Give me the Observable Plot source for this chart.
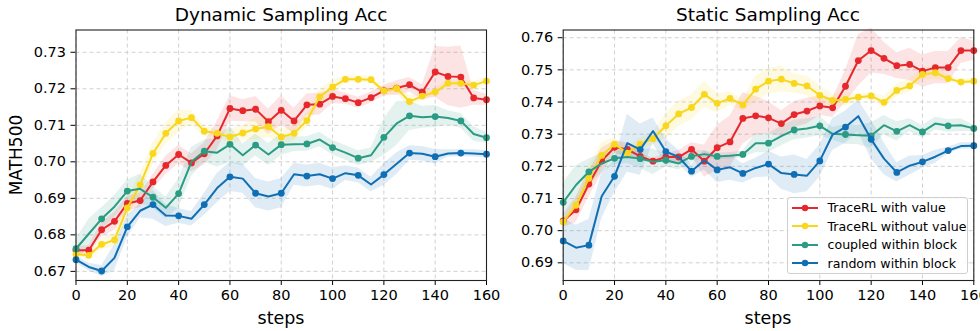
<!DOCTYPE html>
<html><head><meta charset="utf-8">
<script src="https://cdn.jsdelivr.net/npm/d3@7"></script>
<script src="https://cdn.jsdelivr.net/npm/@observablehq/plot@0.6"></script>
<style>
html,body{margin:0;padding:0;background:#fff;}
#chart{position:relative;width:980px;height:331px;font-family:"DejaVu Sans",sans-serif;color:#000;overflow:hidden;}
.panel{position:absolute;top:0;}
.lbl{position:absolute;white-space:nowrap;transform:translate(-50%,-50%);line-height:1;}
#legend{position:absolute;left:786.5px;top:196.5px;width:181px;height:77px;box-sizing:border-box;border:1px solid #cfcfcf;border-radius:3px;background:rgba(255,255,255,0.85);font-size:12.6px;}
#legend .item{position:absolute;left:0;height:18px;display:flex;align-items:center;}
#legend svg{display:block;margin-left:3px;margin-right:9px;}
</style></head><body><div id="chart"></div><script>
const steps = [0,5,10,15,20,25,30,35,40,45,50,55,60,65,70,75,80,85,90,95,100,105,110,115,120,125,130,135,140,145,150,155,160];
const seriesNames = ["TraceRL with value","TraceRL without value","coupled within block","random within block"];
const xTickValues = [0,20,40,60,80,100,120,140,160];
const dynYTicks = [0.67,0.68,0.69,0.70,0.71,0.72,0.73];
const staYTicks = [0.69,0.70,0.71,0.72,0.73,0.74,0.75,0.76];

// Dynamic Sampling Acc (MATH500)
const dynWith = [0.6758,0.6758,0.6814,0.6837,0.6886,0.6894,0.6945,0.6990,0.7020,0.6997,0.7022,0.7071,0.7146,0.7140,0.7144,0.7110,0.7141,0.7112,0.7156,0.7158,0.7179,0.7173,0.7162,0.7176,0.7195,0.7202,0.7211,0.7191,0.7246,0.7234,0.7232,0.7175,0.7170];
const dynWithout = [0.6747,0.6744,0.6774,0.6786,0.6874,0.6937,0.7023,0.7078,0.7112,0.7121,0.7084,0.7078,0.7068,0.7079,0.7090,0.7096,0.7068,0.7078,0.7113,0.7178,0.7205,0.7226,0.7226,0.7225,0.7194,0.7201,0.7165,0.7180,0.7191,0.7215,0.7215,0.7210,0.7221];
const dynCoupled = [0.6762,0.6803,0.6844,0.6877,0.6920,0.6926,0.6903,0.6874,0.6913,0.7000,0.7029,0.7025,0.7048,0.7018,0.7046,0.7020,0.7047,0.7048,0.7049,0.7061,0.7039,0.7025,0.7010,0.7018,0.7067,0.7105,0.7126,0.7122,0.7124,0.7120,0.7112,0.7076,0.7066];
const dynRandom = [0.6732,0.6712,0.6701,0.6737,0.6822,0.6866,0.6883,0.6853,0.6852,0.6844,0.6883,0.6928,0.6959,0.6954,0.6914,0.6905,0.6914,0.6966,0.6961,0.6966,0.6954,0.6969,0.6963,0.6938,0.6965,0.6995,0.7024,0.7022,0.7014,0.7023,0.7024,0.7023,0.7021];
// band half-widths
const dynWithBand = [0.001,0.0012,0.002,0.0025,0.002,0.002,0.002,0.0025,0.0025,0.0025,0.003,0.004,0.0035,0.003,0.0035,0.0035,0.004,0.0035,0.003,0.003,0.002,0.0015,0.0015,0.0015,0.0015,0.002,0.002,0.002,0.007,0.008,0.0085,0.002,0.0015];
const dynWithoutBand = [0.001,0.001,0.0015,0.002,0.003,0.003,0.003,0.003,0.003,0.002,0.0015,0.001,0.002,0.002,0.003,0.003,0.002,0.002,0.002,0.002,0.002,0.001,0.001,0.001,0.001,0.0015,0.0015,0.001,0.001,0.001,0.001,0.001,0.001];
const dynCoupledBand = [0.0025,0.004,0.003,0.003,0.003,0.004,0.003,0.003,0.004,0.004,0.003,0.004,0.005,0.003,0.003,0.003,0.003,0.002,0.002,0.002,0.002,0.002,0.002,0.002,0.005,0.006,0.004,0.003,0.003,0.002,0.002,0.002,0.0015];
const dynRandomBand = [0.001,0.001,0.0015,0.0035,0.003,0.002,0.004,0.003,0.002,0.002,0.003,0.004,0.004,0.004,0.004,0.004,0.004,0.003,0.003,0.003,0.003,0.002,0.002,0.002,0.003,0.003,0.002,0.002,0.002,0.001,0.001,0.001,0.001];

// Static Sampling Acc
const staWith = [0.7030,0.7065,0.7145,0.7217,0.7259,0.7253,0.7231,0.7216,0.7229,0.7229,0.7253,0.7216,0.7258,0.7276,0.7349,0.7357,0.7351,0.7333,0.7361,0.7372,0.7388,0.7382,0.7449,0.7529,0.7560,0.7536,0.7513,0.7517,0.7496,0.7507,0.7507,0.7560,0.7560];
const staWithout = [0.7027,0.7079,0.7163,0.7234,0.7269,0.7241,0.7269,0.7286,0.7326,0.7363,0.7383,0.7424,0.7396,0.7411,0.7391,0.7440,0.7465,0.7471,0.7458,0.7450,0.7421,0.7405,0.7408,0.7415,0.7419,0.7399,0.7436,0.7450,0.7486,0.7491,0.7473,0.7462,0.7465];
const staCoupled = [0.7088,0.7142,0.7183,0.7209,0.7225,0.7229,0.7224,0.7214,0.7219,0.7209,0.7231,0.7238,0.7231,0.7233,0.7237,0.7272,0.7272,0.7294,0.7313,0.7318,0.7326,0.7301,0.7299,0.7297,0.7295,0.7328,0.7309,0.7328,0.7307,0.7333,0.7326,0.7328,0.7318];
const staRandom = [0.6968,0.6947,0.6955,0.7107,0.7169,0.7272,0.7252,0.7310,0.7246,0.7229,0.7185,0.7219,0.7189,0.7197,0.7178,0.7195,0.7207,0.7179,0.7175,0.7171,0.7217,0.7299,0.7322,0.7356,0.7284,0.7224,0.7181,0.7202,0.7214,0.7230,0.7249,0.7263,0.7264];
const staWithBand = [0.002,0.004,0.004,0.004,0.002,0.002,0.001,0.001,0.001,0.002,0.002,0.005,0.007,0.008,0.008,0.006,0.005,0.004,0.004,0.004,0.003,0.003,0.005,0.008,0.007,0.005,0.004,0.005,0.005,0.005,0.005,0.004,0.003];
const staWithoutBand = [0.001,0.002,0.004,0.004,0.002,0.002,0.002,0.002,0.004,0.004,0.004,0.004,0.003,0.002,0.002,0.004,0.004,0.004,0.003,0.003,0.003,0.002,0.002,0.001,0.001,0.002,0.002,0.002,0.002,0.002,0.001,0.001,0.001];
const staCoupledBand = [0.006,0.006,0.004,0.003,0.002,0.002,0.003,0.004,0.002,0.002,0.002,0.001,0.001,0.001,0.001,0.003,0.003,0.003,0.003,0.003,0.003,0.002,0.003,0.003,0.004,0.003,0.003,0.002,0.002,0.002,0.002,0.002,0.001];
const staRandomBand = [0.007,0.007,0.008,0.007,0.005,0.009,0.008,0.004,0.004,0.002,0.002,0.003,0.004,0.004,0.003,0.003,0.004,0.005,0.006,0.005,0.005,0.005,0.005,0.005,0.006,0.005,0.003,0.003,0.002,0.002,0.001,0.001,0.001];

const seriesColors = ["#e6282c","#f9d71c","#2b9c83","#0f6fb4"];
const markerEvery = [5,5,10,10];

function buildRows(vals, bands) {
  const out = [];
  vals.forEach((arr, k) => arr.forEach((v, i) => out.push({
    series: seriesNames[k], k, step: steps[i], value: v,
    lo: v - bands[k][i], hi: v + bands[k][i],
    marker: steps[i] % markerEvery[k] === 0
  })));
  return out;
}

const dynRows = buildRows([dynWith, dynWithout, dynCoupled, dynRandom], [dynWithBand, dynWithoutBand, dynCoupledBand, dynRandomBand]);
const staRows = buildRows([staWith, staWithout, staCoupled, staRandom], [staWithBand, staWithoutBand, staCoupledBand, staRandomBand]);

function panel(rows, yDomain, yTicks, ml, mr) {
  const marks = [
    Plot.gridX(xTickValues, {stroke: "#cccccc", strokeOpacity: 1, strokeWidth: 0.9, strokeDasharray: "4,3"}),
    Plot.gridY(yTicks, {stroke: "#cccccc", strokeOpacity: 1, strokeWidth: 0.9, strokeDasharray: "4,3"}),
    Plot.areaY(rows, {x: "step", y1: "lo", y2: "hi", z: "series", fill: "series", fillOpacity: 0.13})
  ];
  seriesNames.forEach((name, k) => {
    const sub = rows.filter(d => d.k === k);
    marks.push(Plot.line(sub, {x: "step", y: "value", stroke: "series", strokeWidth: 2}));
    marks.push(Plot.dot(sub.filter(d => d.marker), {x: "step", y: "value", fill: "series", r: 3.4}));
  });
  marks.push(Plot.frame({stroke: "#222", strokeWidth: 1.1}));
  return Plot.plot({
    width: 490, height: 331,
    marginLeft: ml, marginRight: mr, marginTop: 29.5, marginBottom: 51,
    style: {fontFamily: "DejaVu Sans, sans-serif", fontSize: "14.5px", color: "#000", background: "transparent", overflow: "visible"},
    x: {domain: [0, 160], ticks: xTickValues, tickSize: 5, tickPadding: 4, label: null},
    y: {domain: yDomain, ticks: yTicks, tickFormat: d3.format(".2f"), tickSize: 5, tickPadding: 5, label: null},
    color: {domain: seriesNames, range: seriesColors},
    marks
  });
}

const chart = document.getElementById("chart");
const left = panel(dynRows, [0.6675, 0.7361], dynYTicks, 75.5, 4);
left.classList.add("panel"); left.style.left = "0px";
chart.appendChild(left);
const right = panel(staRows, [0.6845, 0.7624], staYTicks, 72.7, 6.7);
right.classList.add("panel"); right.style.left = "490px";
chart.appendChild(right);

function label(text, x, y, size, rotate) {
  const d = document.createElement("div");
  d.className = "lbl";
  d.textContent = text;
  d.style.left = x + "px"; d.style.top = y + "px"; d.style.fontSize = size + "px";
  if (rotate) d.style.transform = "translate(-50%,-50%) rotate(-90deg)";
  chart.appendChild(d);
}
label("Dynamic Sampling Acc", 281, 15, 18.5);
label("Static Sampling Acc", 768, 15, 18.5);
label("steps", 281, 319, 17.5);
label("steps", 768, 319, 17.5);
label("MATH500", 15.5, 155, 17, true);

const legend = document.createElement("div");
legend.id = "legend";
seriesNames.forEach((name, k) => {
  const it = document.createElement("div");
  it.className = "item";
  it.style.top = (1 + k * 18.5) + "px";
  const c = seriesColors[k];
  it.innerHTML = `<svg width="28" height="10"><line x1="1" x2="27" y1="5" y2="5" stroke="${c}" stroke-width="2"/><circle cx="14" cy="5" r="3.2" fill="${c}"/></svg><span>${name}</span>`;
  legend.appendChild(it);
});
chart.appendChild(legend);
</script></body></html>
